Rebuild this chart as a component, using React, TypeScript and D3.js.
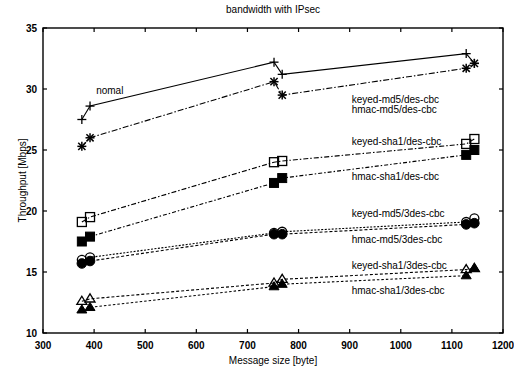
import React from "react";
import * as d3 from "d3";

const messageSizes = [376, 392, 752, 768, 1128, 1144];
const normal = [27.5, 28.6, 32.2, 31.2, 32.9, 32.1];
const md5Des = [25.3, 26.0, 30.6, 29.5, 31.7, 32.1];
const keyedSha1Des = [19.1, 19.5, 24.0, 24.1, 25.5, 25.9];
const hmacSha1Des = [17.5, 17.9, 22.3, 22.7, 24.6, 25.0];
const keyedMd53Des = [16.0, 16.2, 18.2, 18.3, 19.1, 19.4];
const hmacMd53Des = [15.7, 15.9, 18.1, 18.1, 18.9, 19.0];
const keyedSha13Des = [12.6, 12.8, 14.1, 14.4, 15.2, 15.3];
const hmacSha13Des = [11.9, 12.1, 13.8, 14.0, 14.7, 15.3];

const xTicks = [300, 400, 500, 600, 700, 800, 900, 1000, 1100, 1200];
const yTicks = [10, 15, 20, 25, 30, 35];

const labels = [
  { text: "nomal", x: 404, y: 29.9 },
  { text: "keyed-md5/des-cbc", x: 904, y: 29.1 },
  { text: "hmac-md5/des-cbc", x: 904, y: 28.3 },
  { text: "keyed-sha1/des-cbc", x: 904, y: 25.7 },
  { text: "hmac-sha1/des-cbc", x: 904, y: 22.8 },
  { text: "keyed-md5/3des-cbc", x: 904, y: 19.8 },
  { text: "hmac-md5/3des-cbc", x: 904, y: 17.7 },
  { text: "keyed-sha1/3des-cbc", x: 904, y: 15.5 },
  { text: "hmac-sha1/3des-cbc", x: 904, y: 13.5 },
];

type Marker = "plus" | "star" | "square" | "fsquare" | "circle" | "fcircle" | "tri" | "ftri";

const series: { values: number[]; marker: Marker; dash: string }[] = [
  { values: normal, marker: "plus", dash: "" },
  { values: md5Des, marker: "star", dash: "6,2,1.5,2" },
  { values: keyedSha1Des, marker: "square", dash: "5,2,1.5,2" },
  { values: hmacSha1Des, marker: "fsquare", dash: "4,2,1.5,2" },
  { values: hmacMd53Des, marker: "fcircle", dash: "3,2" },
  { values: keyedMd53Des, marker: "circle", dash: "2,1.5" },
  { values: hmacSha13Des, marker: "ftri", dash: "2.5,2" },
  { values: keyedSha13Des, marker: "tri", dash: "3,2" },
];

const W = 514;
const H = 368;
const L = 43, R = 503, T = 28, B = 333;

function MarkerShape({ type, cx, cy }: { type: Marker; cx: number; cy: number }) {
  const s = 4.5;
  const stroke = "#000";
  switch (type) {
    case "plus":
      return (
        <g stroke={stroke} strokeWidth={1.3}>
          <line x1={cx - s} x2={cx + s} y1={cy} y2={cy} />
          <line x1={cx} x2={cx} y1={cy - s} y2={cy + s} />
        </g>
      );
    case "star":
      return (
        <g stroke={stroke} strokeWidth={1.5}>
          <line x1={cx - s} x2={cx + s} y1={cy} y2={cy} />
          <line x1={cx} x2={cx} y1={cy - s} y2={cy + s} />
          <line x1={cx - s * 0.8} x2={cx + s * 0.8} y1={cy - s * 0.8} y2={cy + s * 0.8} />
          <line x1={cx - s * 0.8} x2={cx + s * 0.8} y1={cy + s * 0.8} y2={cy - s * 0.8} />
        </g>
      );
    case "square":
      return <rect x={cx - s} y={cy - s} width={2 * s} height={2 * s} fill="none" stroke={stroke} strokeWidth={1.3} />;
    case "fsquare":
      return <rect x={cx - s} y={cy - s} width={2 * s} height={2 * s} fill="#000" stroke={stroke} strokeWidth={1} />;
    case "circle":
      return <circle cx={cx} cy={cy} r={s} fill="none" stroke={stroke} strokeWidth={1.3} />;
    case "fcircle":
      return <circle cx={cx} cy={cy} r={s + 0.3} fill="#000" stroke={stroke} strokeWidth={1} />;
    case "tri":
      return (
        <path d={`M${cx},${cy - s - 0.5}L${cx + s + 0.5},${cy + s * 0.7}L${cx - s - 0.5},${cy + s * 0.7}Z`} fill="none" stroke={stroke} strokeWidth={1.3} />
      );
    case "ftri":
      return (
        <path d={`M${cx},${cy - s - 0.5}L${cx + s + 0.5},${cy + s * 0.7}L${cx - s - 0.5},${cy + s * 0.7}Z`} fill="#000" stroke={stroke} strokeWidth={1} />
      );
  }
}

export default function App() {
  const x = d3.scaleLinear().domain([300, 1200]).range([L, R]);
  const y = d3.scaleLinear().domain([10, 35]).range([B, T]);
  const line = d3
    .line<number>()
    .x((_, i) => x(messageSizes[i]))
    .y((d) => y(d));
  const font = "'Liberation Sans', Arial, sans-serif";

  return (
    <svg
      width={W}
      height={H}
      style={{ position: "absolute", left: 0, top: 0, background: "#fff" }}
      fontFamily={font}
    >
      <rect x={0} y={0} width={W} height={H} fill="#fff" />
      <text x={(L + R) / 2} y={13} textAnchor="middle" fontSize={10}>
        bandwidth with IPsec
      </text>
      <rect x={L} y={T} width={R - L} height={B - T} fill="none" stroke="#000" strokeWidth={1.4} />
      {xTicks.map((t) => (
        <g key={"x" + t}>
          <line x1={x(t)} x2={x(t)} y1={B} y2={B - 4} stroke="#000" strokeWidth={1.2} />
          <line x1={x(t)} x2={x(t)} y1={T} y2={T + 4} stroke="#000" strokeWidth={1.2} />
          <text x={x(t)} y={B + 16} textAnchor="middle" fontSize={10} fontWeight="bold">
            {t}
          </text>
        </g>
      ))}
      {yTicks.map((t) => (
        <g key={"y" + t}>
          <line x1={L} x2={L + 4} y1={y(t)} y2={y(t)} stroke="#000" strokeWidth={1.2} />
          <line x1={R} x2={R - 4} y1={y(t)} y2={y(t)} stroke="#000" strokeWidth={1.2} />
          <text x={L - 6} y={y(t) + 3.5} textAnchor="end" fontSize={10} fontWeight="bold">
            {t}
          </text>
        </g>
      ))}
      <text x={(L + R) / 2} y={364} textAnchor="middle" fontSize={10}>
        Message size [byte]
      </text>
      <text
        transform={`translate(${26},${(T + B) / 2}) rotate(-90)`}
        textAnchor="middle"
        fontSize={10}
      >
        Throughput [Mbps]
      </text>
      {series.map((s, i) => (
        <g key={"s" + i}>
          <path d={line(s.values) || ""} fill="none" stroke="#000" strokeWidth={1.1} strokeDasharray={s.dash} />
          {s.values.map((v, j) => (
            <MarkerShape key={j} type={s.marker} cx={x(messageSizes[j])} cy={y(v)} />
          ))}
        </g>
      ))}
      {labels.map((l) => (
        <text key={l.text} x={x(l.x)} y={y(l.y) + 3.5} fontSize={10}>
          {l.text}
        </text>
      ))}
    </svg>
  );
}
